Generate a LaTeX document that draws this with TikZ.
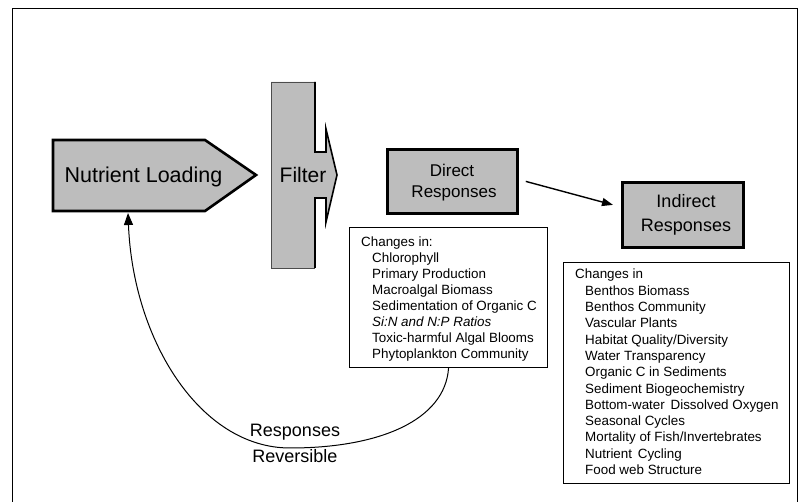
\documentclass[tikz,border=0pt]{standalone}
\usepackage{fontspec}
\setmainfont{Liberation Sans}
\usetikzlibrary{arrows.meta}
\definecolor{shade}{gray}{0.74}
\begin{document}
\begin{tikzpicture}[x=1pt,y=-1pt,
  shadefill/.style={fill=shade, draw=black},
  respbox/.style={shadefill, line width=2.8pt, anchor=north west, inner sep=0pt},
  listbox/.style={draw=black, fill=white, line width=1.1pt, anchor=north west, inner sep=0pt},
  listtext/.style={anchor=base west, font=\fontsize{13.4}{16}\selectfont, inner sep=0pt},
  bigtext/.style={anchor=base, inner sep=0pt},
  conn/.style={line width=1.4pt, -{Triangle[length=11pt,width=8pt]}},
  backconn/.style={line width=1pt, -{Triangle[length=12pt,width=9pt]}},
]
\useasboundingbox (0,0) rectangle (801,502);
\fill[white] (0,0) rectangle (801,502);
\draw[line width=1pt] (12,502) -- (12,9) -- (797,9) -- (797,502);

% Nutrient loading
\draw[shadefill, line width=2.6pt, line join=miter] (53,140) -- (205,140) -- (256,175) -- (205,211) -- (53,211) -- cycle;
\node[bigtext, font=\fontsize{21.5}{25}\selectfont] (nl) at (143.5,183) {Nutrient Loading};
\coordinate (nlb) at (128,213);

% Filter
\path[fill=shade] (271,82) -- (315,82) -- (315,152) -- (326,152) -- (326,129) -- (337,175) -- (326,222) -- (326,198) -- (315,198) -- (315,268) -- (271,268) -- cycle;
\draw[line width=0.8pt, draw=black!70] (315,82) -- (271,82) -- (271,268) -- (315,268);
\draw[line width=1.6pt, line join=miter] (315,82) -- (315,152) -- (326,152) -- (326,129) -- (337,175) -- (326,222) -- (326,198) -- (315,198) -- (315,268);
\node[bigtext, font=\fontsize{21}{25}\selectfont] (filt) at (303,183) {Filter};

% Direct responses
\node[respbox, minimum width=130pt, minimum height=64pt] (dr) at (386,148) {};
\node[bigtext, font=\fontsize{17}{20}\selectfont] (dr1) at (452,177) {Direct};
\node[bigtext, font=\fontsize{17}{20}\selectfont] (dr2) at (454,198) {Responses};

% Indirect responses
\node[respbox, minimum width=121pt, minimum height=65pt] (ir) at (621,181) {};
\node[bigtext, font=\fontsize{18}{21}\selectfont] (ir1) at (686,208) {Indirect};
\node[bigtext, font=\fontsize{18}{21}\selectfont] (ir2) at (686,232) {Responses};

\draw[conn] ([xshift=7pt]dr.east) -- ([xshift=-8pt,yshift=10pt]ir.west);

% List 1
\node[listbox, minimum width=198pt, minimum height=140pt] (cb1) at (349,227) {};
\node[listtext] (c1h) at (361,247) {Changes in:};
\foreach \t [count=\i] in {Chlorophyll, Primary Production, Macroalgal Biomass, Sedimentation of Organic C, \textit{Si:N and N:P Ratios}, Toxic-harmful Algal Blooms, Phytoplankton Community}
  \node[listtext] (c1-\i) at (372,{247+15.9*\i}) {\t};

% List 2
\node[listbox, minimum width=226pt, minimum height=221pt] (cb2) at (563,262) {};
\node[listtext] (c2h) at (575,279) {Changes in};
\foreach \t [count=\i] in {Benthos Biomass, Benthos Community, Vascular Plants, Habitat Quality/Diversity, Water Transparency, Organic C in Sediments, Sediment Biogeochemistry, Bottom-water\hspace{2pt} Dissolved Oxygen, Seasonal Cycles, Mortality of Fish/Invertebrates, Nutrient\hspace{2pt} Cycling, Food web Structure}
  \node[listtext] (c2-\i) at (585,{279+16.3*\i}) {\t};

% Feedback curve
\draw[backconn] (cb1.south) .. controls (445,420) and (380,448) .. (290,448) .. controls (200,448) and (133,340) .. (nlb);
\node[bigtext, font=\fontsize{18}{21}\selectfont] (rr1) at (295,437) {Responses};
\node[bigtext, font=\fontsize{18}{21}\selectfont] (rr2) at (295,463) {Reversible};
\end{tikzpicture}
\end{document}
